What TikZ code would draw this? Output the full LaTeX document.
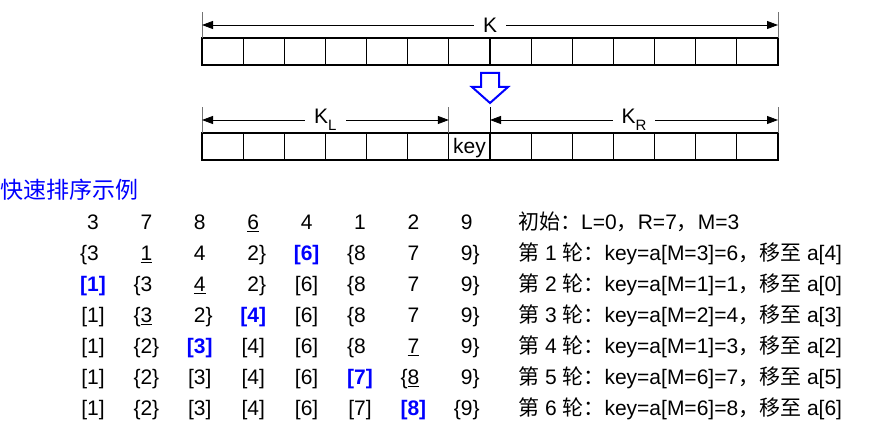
\documentclass[tikz,border=0pt]{standalone}
\usepackage{fontspec}
\setmainfont{Liberation Sans}
\newfontfamily\cjk{Noto Sans CJK SC}
\usetikzlibrary{arrows.meta}

\newcommand\zh[1]{{\cjk #1}}
\newcommand\lset[1]{\llap{\{}#1}
\newcommand\rset[1]{#1\rlap{\}}}
\newcommand\bset[1]{\llap{\{}#1\rlap{\}}}
\newcommand\done[1]{\llap{[}#1\rlap{]}}
\newcommand\pivot[1]{\textcolor{blue}{\bfseries\llap{[}#1\rlap{]}}}
\newcommand\gridrow[2]{%
  \foreach \v [count=\c from 0] in {#2}
    \node[num] (n#1-\c) at (93+53.4*\c,230+31*#1) {\v};}

\begin{document}
\begin{tikzpicture}[x=1pt,y=-1pt,font=\fontsize{21}{21}\selectfont,
  cell/.style={draw,line width=1.1pt,minimum width=41.14pt,minimum height=27pt,
    inner sep=0pt,outer sep=0pt,anchor=north west},
  dim/.style={{Triangle[length=11pt,width=8pt]}-{Triangle[length=11pt,width=8pt]},line width=0.8pt},
  tick/.style={black!55,line width=0.8pt},
  lbl/.style={fill=white,inner xsep=9pt,inner ysep=1pt},
  num/.style={anchor=base,inner sep=0pt},
  note/.style={anchor=base west,inner sep=0pt}]
\useasboundingbox[fill=white] (0,0) rectangle (895,430);
% the whole array K
\foreach \i in {0,...,13} \node[cell] (t\i) at (202+41.14*\i,38) {};
\coordinate (kA) at (202,25); \coordinate (kB) at (778,25);
\draw[tick] (t0.north west) -- ++(0,-26) (t13.north east) -- ++(0,-26);
\draw[dim] (kA) -- node[lbl] (k) {K} (kB);
% hollow arrow
\draw[blue,line width=2pt,fill=white] (481,73) -- (499,73) -- (499,87) -- (508,87)
  -- (490,103) -- (472,87) -- (481,87) -- cycle;
% split into K_L, key, K_R
\foreach \i in {0,...,13} \node[cell] (b\i) at (202+41.14*\i,133) {};
\node[num] (key) at ([yshift=6pt]b6.south) {key};
\draw[tick] (b0.north west) -- ++(0,-26) (b6.north west) -- ++(0,-26)
  (b13.north east) -- ++(0,-26);
\draw[black,line width=0.8pt] (b7.north west) -- ++(0,-26);
\coordinate (lA) at (202,120); \coordinate (lB) at (448.8,120);
\coordinate (rA) at (490,120); \coordinate (rB) at (778,120);
\draw[dim] (lA) -- node[lbl] (kl) {K\raisebox{-0.35em}{\fontsize{15}{15}\selectfont L}} (lB);
\draw[dim] (rA) -- node[lbl] (kr) {K\raisebox{-0.35em}{\fontsize{15}{15}\selectfont R}} (rB);
% example
\node[anchor=west,inner sep=0pt,text=blue,font=\cjk\fontsize{23}{23}\selectfont] (title) at (0,190) {快速排序示例};
\gridrow{0}{3,7,8,\underline{6},4,1,2,9}
\gridrow{1}{\lset{3},\underline{1},4,\rset{2},\pivot{6},\lset{8},7,\rset{9}}
\gridrow{2}{\pivot{1},\lset{3},\underline{4},\rset{2},\done{6},\lset{8},7,\rset{9}}
\gridrow{3}{\done{1},\lset{\underline{3}},\rset{2},\pivot{4},\done{6},\lset{8},7,\rset{9}}
\gridrow{4}{\done{1},\bset{2},\pivot{3},\done{4},\done{6},\lset{8},\underline{7},\rset{9}}
\gridrow{5}{\done{1},\bset{2},\done{3},\done{4},\done{6},\pivot{7},\lset{\underline{8}},\rset{9}}
\gridrow{6}{\done{1},\bset{2},\done{3},\done{4},\done{6},\done{7},\pivot{8},\bset{9}}
\foreach \t [count=\c from 0] in {\zh{初始：}L=0\zh{，}R=7\zh{，}M=3,
  \zh{第} 1 \zh{轮：}key=a[M=3]=6\zh{，移至} a[4],
  \zh{第} 2 \zh{轮：}key=a[M=1]=1\zh{，移至} a[0],
  \zh{第} 3 \zh{轮：}key=a[M=2]=4\zh{，移至} a[3],
  \zh{第} 4 \zh{轮：}key=a[M=1]=3\zh{，移至} a[2],
  \zh{第} 5 \zh{轮：}key=a[M=6]=7\zh{，移至} a[5],
  \zh{第} 6 \zh{轮：}key=a[M=6]=8\zh{，移至} a[6]}
  \node[note] (s\c) at (518,230+31*\c) {\t};
\end{tikzpicture}
\end{document}
